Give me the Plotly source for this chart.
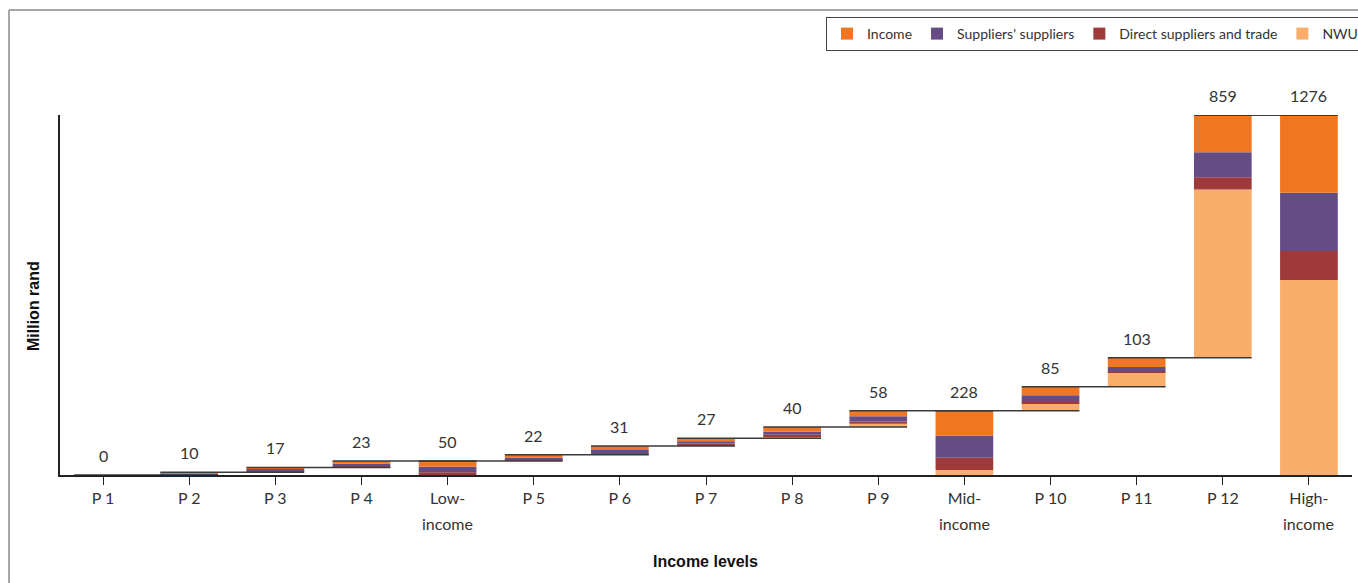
import plotly.graph_objects as go

categories = ["P 1", "P 2", "P 3", "P 4", "Low-", "P 5", "P 6", "P 7", "P 8", "P 9",
              "Mid-", "P 10", "P 11", "P 12", "High-"]
category_second_line = ["", "", "", "", "income", "", "", "", "", "",
                        "income", "", "", "", "income"]
is_total = [False, False, False, False, True, False, False, False, False, False,
            True, False, False, False, True]
income = [0, 3, 4, 9, 21, 10, 14, 10, 17, 20, 89, 30, 33, 131, 276]
suppliers_suppliers = [0, 4, 8, 9, 19, 6, 12, 8, 10, 18, 78, 21, 16, 89, 206]
direct_suppliers = [0, 3, 4, 4, 10, 5, 4, 6, 6, 8, 43, 10, 5, 43, 103]
nwu = [0, 0, 1, 1, 0, 1, 1, 3, 7, 12, 18, 24, 49, 596, 691]
value_labels = [0, 10, 17, 23, 50, 22, 31, 27, 40, 58, 228, 85, 103, 859, 1276]

C_INCOME = "#F07622"
C_SS = "#664C85"
C_DS = "#9E3A3A"
C_NWU = "#F9AD6A"
FONT = "Lato"
TITLE_FONT = "Liberation Sans"

n = len(categories)
totals = [income[i] + suppliers_suppliers[i] + direct_suppliers[i] + nwu[i] for i in range(n)]
starts = []
tops = []
running = 0
for i in range(n):
    if is_total[i]:
        s = 0
        t = totals[i]
        running = t
    else:
        s = running
        t = running + totals[i]
        running = t
    starts.append(s)
    tops.append(t)

base_nwu = starts
base_ds = [starts[i] + nwu[i] for i in range(n)]
base_ss = [base_ds[i] + direct_suppliers[i] for i in range(n)]
base_inc = [base_ss[i] + suppliers_suppliers[i] for i in range(n)]

xs = list(range(n))
fig = go.Figure()
series = [
    ("NWU", nwu, base_nwu, C_NWU, 4),
    ("Direct suppliers and trade", direct_suppliers, base_ds, C_DS, 3),
    ("Suppliers' suppliers", suppliers_suppliers, base_ss, C_SS, 2),
    ("Income", income, base_inc, C_INCOME, 1),
]
for name, vals, base, color, rank in series:
    fig.add_trace(go.Bar(
        x=xs, y=vals, base=base, name=name, marker=dict(color=color, line=dict(width=0)),
        width=0.67, legendrank=rank, hoverinfo="skip",
    ))

# connector lines
for i in range(n - 1):
    fig.add_shape(type="line", xref="x", yref="y",
                  x0=i - 0.335, x1=i + 1 + 0.335, y0=tops[i], y1=tops[i],
                  line=dict(color="#3a3a3a", width=1.5), layer="above")

# value labels
for i in range(n):
    fig.add_annotation(x=i, y=tops[i], text=str(value_labels[i]), showarrow=False,
                       yanchor="bottom", yshift=8, font=dict(family=FONT, size=16, color="#333333"))

L, R, T, B = 60, 6, 115, 108
W, H = 1358, 583
pw = W - L - R
ph = H - T - B

def px_x(x):
    return (x - L) / pw

def px_y(y):
    return (H - B - y) / ph

# second line of category labels
for i in range(n):
    if category_second_line[i]:
        fig.add_annotation(x=i, xref="x", yref="paper", y=px_y(523), text=category_second_line[i],
                           showarrow=False, yanchor="middle",
                           font=dict(family=FONT, size=16, color="#333333"))

# outer frame (left & top)
fig.add_shape(type="line", xref="paper", yref="paper", x0=px_x(9), x1=px_x(1360), y0=px_y(10), y1=px_y(10),
              line=dict(color="#8a8a8a", width=1.5))
fig.add_shape(type="line", xref="paper", yref="paper", x0=px_x(9), x1=px_x(9), y0=px_y(10), y1=px_y(590),
              line=dict(color="#8a8a8a", width=1.5))

fig.add_annotation(xref="paper", yref="paper", x=px_x(33), y=px_y(306), text="<b>Million rand</b>",
                   textangle=-90, showarrow=False, xanchor="center", yanchor="middle",
                   font=dict(family=TITLE_FONT, size=16, color="#111111"))
fig.add_annotation(xref="paper", yref="paper", x=px_x(705), y=px_y(561), text="<b>Income levels</b>",
                   showarrow=False, xanchor="center", yanchor="middle",
                   font=dict(family=TITLE_FONT, size=16, color="#111111"))

fig.update_layout(
    width=W, height=H,
    margin=dict(l=L, r=R, t=T, b=B, pad=0, autoexpand=False),
    barmode="overlay",
    plot_bgcolor="white", paper_bgcolor="white",
    font=dict(family=FONT, size=15, color="#333333"),
    showlegend=True,
    legend=dict(orientation="h", x=px_x(826), y=px_y(17), xanchor="left", yanchor="top",
                bordercolor="#444444", borderwidth=1, font=dict(family=FONT, size=14, color="#333333"),
                itemwidth=30, traceorder="normal", bgcolor="white"),
)
fig.update_xaxes(
    tickmode="array", tickvals=xs, ticktext=categories, range=[-0.5, n - 0.5],
    showline=True, linecolor="#222222", linewidth=1.5,
    ticks="outside", tickson="boundaries", ticklen=8, tickcolor="#222222", tickwidth=1,
    showgrid=False, zeroline=False, tickfont=dict(family=FONT, size=16, color="#333333"),
)
fig.update_yaxes(
    range=[0, 1276], showline=True, linecolor="#222222", linewidth=1.5,
    showticklabels=False, ticks="", showgrid=False, zeroline=False,
)

fig.write_html("out.html")
